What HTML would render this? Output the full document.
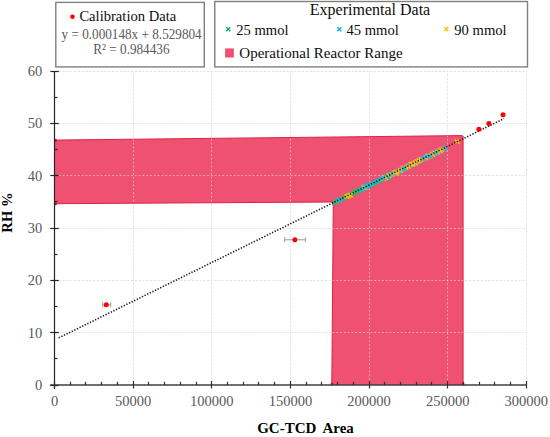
<!DOCTYPE html><html><head><meta charset="utf-8"><style>
html,body{margin:0;padding:0;background:#fff;width:550px;height:437px;overflow:hidden}
svg{display:block}
text{font-family:"Liberation Serif",serif}
</style></head><body>
<svg width="550" height="437" viewBox="0 0 550 437">
<g stroke="#e4e4e4" stroke-width="1" stroke-dasharray="2.3,1.5"><line x1="55.0" y1="332.5" x2="527.0" y2="332.5"/><line x1="55.0" y1="280.5" x2="527.0" y2="280.5"/><line x1="55.0" y1="228.5" x2="527.0" y2="228.5"/><line x1="55.0" y1="175.5" x2="527.0" y2="175.5"/><line x1="55.0" y1="123.5" x2="527.0" y2="123.5"/><line x1="55.0" y1="71.5" x2="527.0" y2="71.5"/><line x1="133.5" y1="384.0" x2="133.5" y2="71.0"/><line x1="211.5" y1="384.0" x2="211.5" y2="71.0"/><line x1="290.5" y1="384.0" x2="290.5" y2="71.0"/><line x1="369.5" y1="384.0" x2="369.5" y2="71.0"/><line x1="447.5" y1="384.0" x2="447.5" y2="71.0"/><line x1="526.5" y1="384.0" x2="526.5" y2="71.0"/></g>
<polygon points="55.0,140.1 462.4,135.6 463.3,136.2 463.3,385 331.8,385 333.3,202.0 55.0,203.7" fill="#ef5173"/>
<polyline points="55,140.1 462.4,135.6 463.0,136.3 463.0,385" fill="none" stroke="#dc2442" stroke-width="1"/>
<polyline points="55,203.7 333.3,202.0 331.8,385" fill="none" stroke="#dc2442" stroke-width="1"/>
<clipPath id="cp"><polygon points="55.0,140.1 462.4,135.6 463.3,136.2 463.3,385 331.8,385 333.3,202.0 55.0,203.7"/></clipPath><g clip-path="url(#cp)"><g stroke="#ffffff" stroke-opacity="0.45" stroke-width="1" stroke-dasharray="2,1.8"><line x1="55.0" y1="332.5" x2="527.0" y2="332.5"/><line x1="55.0" y1="280.5" x2="527.0" y2="280.5"/><line x1="55.0" y1="228.5" x2="527.0" y2="228.5"/><line x1="55.0" y1="175.5" x2="527.0" y2="175.5"/><line x1="55.0" y1="123.5" x2="527.0" y2="123.5"/><line x1="55.0" y1="71.5" x2="527.0" y2="71.5"/><line x1="133.5" y1="384.0" x2="133.5" y2="71.0"/><line x1="211.5" y1="384.0" x2="211.5" y2="71.0"/><line x1="290.5" y1="384.0" x2="290.5" y2="71.0"/><line x1="369.5" y1="384.0" x2="369.5" y2="71.0"/><line x1="447.5" y1="384.0" x2="447.5" y2="71.0"/><line x1="526.5" y1="384.0" x2="526.5" y2="71.0"/></g></g>
<circle cx="55.5" cy="140.2" r="1.5" fill="#e00010"/>
<circle cx="55.5" cy="203.8" r="1.5" fill="#e00010"/>
<circle cx="332" cy="384" r="1.5" fill="#e00010"/>
<circle cx="463" cy="384" r="1.5" fill="#e00010"/>
<circle cx="333.3" cy="202.2" r="1.5" fill="#e00010"/>
<g><path d="M332.27 200.38L336.87 204.98M332.27 204.98L336.87 200.38" stroke="#1ec068" stroke-width="1.45"/><path d="M335.22 198.93L339.82 203.53M335.22 203.53L339.82 198.93" stroke="#1ec068" stroke-width="1.45"/><path d="M337.58 197.49L342.18 202.09M337.58 202.09L342.18 197.49" stroke="#1ec068" stroke-width="1.45"/><path d="M340.88 196.30L345.48 200.90M340.88 200.90L345.48 196.30" stroke="#1ec068" stroke-width="1.45"/><path d="M342.71 194.74L347.31 199.34M342.71 199.34L347.31 194.74" stroke="#1ec068" stroke-width="1.45"/><path d="M345.23 193.27L349.83 197.87M345.23 197.87L349.83 193.27" stroke="#1ec068" stroke-width="1.45"/><path d="M347.11 193.25L351.71 197.85M347.11 197.85L351.71 193.25" stroke="#1ec068" stroke-width="1.45"/><path d="M349.76 191.82L354.36 196.42M349.76 196.42L354.36 191.82" stroke="#1ec068" stroke-width="1.45"/><path d="M352.00 190.05L356.60 194.65M352.00 194.65L356.60 190.05" stroke="#1ec068" stroke-width="1.45"/><path d="M353.95 189.17L358.55 193.77M353.95 193.77L358.55 189.17" stroke="#1ec068" stroke-width="1.45"/><path d="M356.08 188.79L360.68 193.39M356.08 193.39L360.68 188.79" stroke="#1ec068" stroke-width="1.45"/><path d="M358.21 187.40L362.81 192.00M358.21 192.00L362.81 187.40" stroke="#1ec068" stroke-width="1.45"/><path d="M360.37 186.74L364.97 191.34M360.37 191.34L364.97 186.74" stroke="#1ec068" stroke-width="1.45"/><path d="M363.46 185.17L368.06 189.77M363.46 189.77L368.06 185.17" stroke="#1ec068" stroke-width="1.45"/><path d="M365.25 183.56L369.85 188.16M365.25 188.16L369.85 183.56" stroke="#1ec068" stroke-width="1.45"/><path d="M367.05 182.81L371.65 187.41M367.05 187.41L371.65 182.81" stroke="#1ec068" stroke-width="1.45"/><path d="M369.54 181.96L374.14 186.56M369.54 186.56L374.14 181.96" stroke="#1ec068" stroke-width="1.45"/><path d="M371.93 180.93L376.53 185.53M371.93 185.53L376.53 180.93" stroke="#1ec068" stroke-width="1.45"/><path d="M374.31 179.42L378.91 184.02M374.31 184.02L378.91 179.42" stroke="#1ec068" stroke-width="1.45"/><path d="M376.80 178.69L381.40 183.29M376.80 183.29L381.40 178.69" stroke="#1ec068" stroke-width="1.45"/><path d="M379.04 177.45L383.64 182.05M379.04 182.05L383.64 177.45" stroke="#1ec068" stroke-width="1.45"/><path d="M380.87 176.07L385.47 180.67M380.87 180.67L385.47 176.07" stroke="#1ec068" stroke-width="1.45"/><path d="M384.04 174.19L388.64 178.79M384.04 178.79L388.64 174.19" stroke="#1ec068" stroke-width="1.45"/><path d="M387.55 172.61L392.15 177.21M387.55 177.21L392.15 172.61" stroke="#1ec068" stroke-width="1.45"/><path d="M427.96 153.46L432.56 158.06M427.96 158.06L432.56 153.46" stroke="#1ec068" stroke-width="1.45"/><path d="M346.29 193.50L350.89 198.10M346.29 198.10L350.89 193.50" stroke="#ffc20a" stroke-width="1.45"/><path d="M361.75 185.13L366.35 189.73M361.75 189.73L366.35 185.13" stroke="#ffc20a" stroke-width="1.45"/><path d="M375.79 178.37L380.39 182.97M375.79 182.97L380.39 178.37" stroke="#1cb8f2" stroke-width="1.45"/><path d="M400.89 165.95L405.49 170.55M400.89 170.55L405.49 165.95" stroke="#ffc20a" stroke-width="1.45"/><path d="M396.66 169.26L401.26 173.86M396.66 173.86L401.26 169.26" stroke="#1cb8f2" stroke-width="1.45"/><path d="M403.65 165.19L408.25 169.79M403.65 169.79L408.25 165.19" stroke="#ffc20a" stroke-width="1.45"/><path d="M431.41 150.99L436.01 155.59M431.41 155.59L436.01 150.99" stroke="#1cb8f2" stroke-width="1.45"/><path d="M454.90 139.20L459.50 143.80M454.90 143.80L459.50 139.20" stroke="#ffc20a" stroke-width="1.45"/><path d="M386.57 173.22L391.17 177.82M386.57 177.82L391.17 173.22" stroke="#ffc20a" stroke-width="1.45"/><path d="M363.60 184.88L368.20 189.48M363.60 189.48L368.20 184.88" stroke="#ffc20a" stroke-width="1.45"/><path d="M417.69 157.98L422.29 162.58M417.69 162.58L422.29 157.98" stroke="#1cb8f2" stroke-width="1.45"/><path d="M418.69 157.02L423.29 161.62M418.69 161.62L423.29 157.02" stroke="#ffc20a" stroke-width="1.45"/><path d="M432.57 150.55L437.17 155.15M432.57 155.15L437.17 150.55" stroke="#ffc20a" stroke-width="1.45"/><path d="M362.79 184.37L367.39 188.97M362.79 188.97L367.39 184.37" stroke="#1cb8f2" stroke-width="1.45"/><path d="M399.68 167.62L404.28 172.22M399.68 172.22L404.28 167.62" stroke="#1cb8f2" stroke-width="1.45"/><path d="M359.46 187.14L364.06 191.74M359.46 191.74L364.06 187.14" stroke="#1cb8f2" stroke-width="1.45"/><path d="M438.45 148.42L443.05 153.02M438.45 153.02L443.05 148.42" stroke="#1cb8f2" stroke-width="1.45"/><path d="M383.62 175.75L388.22 180.35M383.62 180.35L388.22 175.75" stroke="#1cb8f2" stroke-width="1.45"/><path d="M425.76 153.83L430.36 158.43M425.76 158.43L430.36 153.83" stroke="#ffc20a" stroke-width="1.45"/><path d="M365.38 183.58L369.98 188.18M365.38 188.18L369.98 183.58" stroke="#1cb8f2" stroke-width="1.45"/><path d="M416.55 158.42L421.15 163.02M416.55 163.02L421.15 158.42" stroke="#ffc20a" stroke-width="1.45"/><path d="M423.78 155.56L428.38 160.16M423.78 160.16L428.38 155.56" stroke="#ffc20a" stroke-width="1.45"/><path d="M369.95 181.29L374.55 185.89M369.95 185.89L374.55 181.29" stroke="#1cb8f2" stroke-width="1.45"/><path d="M344.62 194.26L349.22 198.86M344.62 198.86L349.22 194.26" stroke="#ffc20a" stroke-width="1.45"/><path d="M414.81 159.16L419.41 163.76M414.81 163.76L419.41 159.16" stroke="#ffc20a" stroke-width="1.45"/><path d="M421.25 156.45L425.85 161.05M421.25 161.05L425.85 156.45" stroke="#ffc20a" stroke-width="1.45"/><path d="M389.52 172.17L394.12 176.77M389.52 176.77L394.12 172.17" stroke="#ffc20a" stroke-width="1.45"/><path d="M437.73 148.38L442.33 152.98M437.73 152.98L442.33 148.38" stroke="#ffc20a" stroke-width="1.45"/><path d="M402.76 166.32L407.36 170.92M402.76 170.92L407.36 166.32" stroke="#1cb8f2" stroke-width="1.45"/><path d="M386.06 174.53L390.66 179.13M386.06 179.13L390.66 174.53" stroke="#1cb8f2" stroke-width="1.45"/><path d="M409.73 162.68L414.33 167.28M409.73 167.28L414.33 162.68" stroke="#1cb8f2" stroke-width="1.45"/><path d="M424.15 154.18L428.75 158.78M424.15 158.78L428.75 154.18" stroke="#1cb8f2" stroke-width="1.45"/><path d="M413.14 161.31L417.74 165.91M413.14 165.91L417.74 161.31" stroke="#1cb8f2" stroke-width="1.45"/><path d="M393.66 169.82L398.26 174.42M393.66 174.42L398.26 169.82" stroke="#1cb8f2" stroke-width="1.45"/><path d="M394.73 169.78L399.33 174.38M394.73 174.38L399.33 169.78" stroke="#ffc20a" stroke-width="1.45"/><path d="M439.66 147.37L444.26 151.97M439.66 151.97L444.26 147.37" stroke="#ffc20a" stroke-width="1.45"/><path d="M380.89 176.37L385.49 180.97M380.89 180.97L385.49 176.37" stroke="#ffc20a" stroke-width="1.45"/><path d="M421.12 156.34L425.72 160.94M421.12 160.94L425.72 156.34" stroke="#1cb8f2" stroke-width="1.45"/><path d="M383.48 175.09L388.08 179.69M383.48 179.69L388.08 175.09" stroke="#ffc20a" stroke-width="1.45"/><path d="M406.63 162.73L411.23 167.33M406.63 167.33L411.23 162.73" stroke="#1cb8f2" stroke-width="1.45"/><path d="M410.71 161.69L415.31 166.29M410.71 166.29L415.31 161.69" stroke="#ffc20a" stroke-width="1.45"/><path d="M348.15 192.76L352.75 197.36M348.15 197.36L352.75 192.76" stroke="#ffc20a" stroke-width="1.45"/><path d="M442.73 146.30L447.33 150.90M442.73 150.90L447.33 146.30" stroke="#ffc20a" stroke-width="1.45"/><path d="M427.97 153.41L432.57 158.01M427.97 158.01L432.57 153.41" stroke="#ffc20a" stroke-width="1.45"/><path d="M408.81 161.88L413.41 166.48M408.81 166.48L413.41 161.88" stroke="#ffc20a" stroke-width="1.45"/><path d="M430.27 152.02L434.87 156.62M430.27 156.62L434.87 152.02" stroke="#ffc20a" stroke-width="1.45"/><path d="M389.64 171.36L394.24 175.96M389.64 175.96L394.24 171.36" stroke="#1cb8f2" stroke-width="1.45"/><path d="M392.67 170.42L397.27 175.02M392.67 175.02L397.27 170.42" stroke="#ffc20a" stroke-width="1.45"/><path d="M406.08 164.12L410.68 168.72M406.08 168.72L410.68 164.12" stroke="#ffc20a" stroke-width="1.45"/><path d="M397.96 168.02L402.56 172.62M397.96 172.62L402.56 168.02" stroke="#ffc20a" stroke-width="1.45"/><path d="M427.88 153.97L432.48 158.57M427.88 158.57L432.48 153.97" stroke="#1cb8f2" stroke-width="1.45"/><path d="M380.51 175.62L385.11 180.22M380.51 180.22L385.11 175.62" stroke="#1cb8f2" stroke-width="1.45"/><path d="M442.75 146.06L447.35 150.66M442.75 150.66L447.35 146.06" stroke="#1cb8f2" stroke-width="1.45"/><path d="M336.61 198.02L341.21 202.62M336.61 202.62L341.21 198.02" stroke="#1cb8f2" stroke-width="1.45"/><path d="M413.01 160.53L417.61 165.13M413.01 165.13L417.61 160.53" stroke="#ffc20a" stroke-width="1.45"/><path d="M435.41 149.73L440.01 154.33M435.41 154.33L440.01 149.73" stroke="#ffc20a" stroke-width="1.45"/><path d="M434.14 150.54L438.74 155.14M434.14 155.14L438.74 150.54" stroke="#1cb8f2" stroke-width="1.45"/></g>
<g stroke="#b0b0b0" stroke-width="1.3"><line x1="102.6" y1="304.8" x2="110.6" y2="304.8"/><line x1="102.6" y1="302.2" x2="102.6" y2="307.40000000000003"/><line x1="110.6" y1="302.2" x2="110.6" y2="307.40000000000003"/></g>
<g stroke="#b0b0b0" stroke-width="1.3"><line x1="284.7" y1="239.7" x2="305.5" y2="239.7"/><line x1="284.7" y1="237.1" x2="284.7" y2="242.29999999999998"/><line x1="305.5" y1="237.1" x2="305.5" y2="242.29999999999998"/></g>
<line x1="58.7" y1="337.90" x2="504.0" y2="118.60" stroke="#1a1a1a" stroke-width="1.6" stroke-dasharray="1.3,1.6"/>
<circle cx="106.3" cy="304.8" r="2.5" fill="#ff0000"/>
<circle cx="294.9" cy="239.7" r="2.5" fill="#ff0000"/>
<circle cx="478.9" cy="129.2" r="2.5" fill="#ff0000"/>
<circle cx="488.9" cy="123.5" r="2.5" fill="#ff0000"/>
<circle cx="503" cy="114.7" r="2.5" fill="#ff0000"/>
<line x1="54.5" y1="71.0" x2="54.5" y2="389" stroke="#262626" stroke-width="1.2"/>
<line x1="50.2" y1="385.0" x2="526.30" y2="385.0" stroke="#404040" stroke-width="1.5"/>
<g stroke="#262626" stroke-width="1.2"><line x1="50.3" y1="385.5" x2="58.8" y2="385.5"/><line x1="50.3" y1="332.5" x2="58.8" y2="332.5"/><line x1="50.3" y1="280.5" x2="58.8" y2="280.5"/><line x1="50.3" y1="228.5" x2="58.8" y2="228.5"/><line x1="50.3" y1="175.5" x2="58.8" y2="175.5"/><line x1="50.3" y1="123.5" x2="58.8" y2="123.5"/><line x1="50.3" y1="71.5" x2="58.8" y2="71.5"/><line x1="54.5" y1="358.5" x2="57.5" y2="358.5"/><line x1="54.5" y1="306.5" x2="57.5" y2="306.5"/><line x1="54.5" y1="254.5" x2="57.5" y2="254.5"/><line x1="54.5" y1="201.5" x2="57.5" y2="201.5"/><line x1="54.5" y1="149.5" x2="57.5" y2="149.5"/><line x1="54.5" y1="97.5" x2="57.5" y2="97.5"/></g>
<g stroke="#303030" stroke-width="1.2"><line x1="54.5" y1="381" x2="54.5" y2="388.5"/><line x1="133.5" y1="381" x2="133.5" y2="388.5"/><line x1="211.5" y1="381" x2="211.5" y2="388.5"/><line x1="290.5" y1="381" x2="290.5" y2="388.5"/><line x1="369.5" y1="381" x2="369.5" y2="388.5"/><line x1="447.5" y1="381" x2="447.5" y2="388.5"/><line x1="526.5" y1="381" x2="526.5" y2="388.5"/><line x1="70.5" y1="381.8" x2="70.5" y2="385.0"/><line x1="85.5" y1="381.8" x2="85.5" y2="385.0"/><line x1="101.5" y1="381.8" x2="101.5" y2="385.0"/><line x1="117.5" y1="381.8" x2="117.5" y2="385.0"/><line x1="148.5" y1="381.8" x2="148.5" y2="385.0"/><line x1="164.5" y1="381.8" x2="164.5" y2="385.0"/><line x1="180.5" y1="381.8" x2="180.5" y2="385.0"/><line x1="196.5" y1="381.8" x2="196.5" y2="385.0"/><line x1="227.5" y1="381.8" x2="227.5" y2="385.0"/><line x1="243.5" y1="381.8" x2="243.5" y2="385.0"/><line x1="258.5" y1="381.8" x2="258.5" y2="385.0"/><line x1="274.5" y1="381.8" x2="274.5" y2="385.0"/><line x1="306.5" y1="381.8" x2="306.5" y2="385.0"/><line x1="321.5" y1="381.8" x2="321.5" y2="385.0"/><line x1="337.5" y1="381.8" x2="337.5" y2="385.0"/><line x1="353.5" y1="381.8" x2="353.5" y2="385.0"/><line x1="384.5" y1="381.8" x2="384.5" y2="385.0"/><line x1="400.5" y1="381.8" x2="400.5" y2="385.0"/><line x1="416.5" y1="381.8" x2="416.5" y2="385.0"/><line x1="431.5" y1="381.8" x2="431.5" y2="385.0"/><line x1="463.5" y1="381.8" x2="463.5" y2="385.0"/><line x1="479.5" y1="381.8" x2="479.5" y2="385.0"/><line x1="494.5" y1="381.8" x2="494.5" y2="385.0"/><line x1="510.5" y1="381.8" x2="510.5" y2="385.0"/></g>
<g font-size="14.5" fill="#595959"><text x="42.2" y="389.90" text-anchor="end">0</text><text x="42.2" y="337.57" text-anchor="end">10</text><text x="42.2" y="285.24" text-anchor="end">20</text><text x="42.2" y="232.91" text-anchor="end">30</text><text x="42.2" y="180.58" text-anchor="end">40</text><text x="42.2" y="128.25" text-anchor="end">50</text><text x="42.2" y="75.92" text-anchor="end">60</text><text x="54.50" y="406.4" text-anchor="middle">0</text><text x="133.13" y="406.4" text-anchor="middle">50000</text><text x="211.77" y="406.4" text-anchor="middle">100000</text><text x="290.40" y="406.4" text-anchor="middle">150000</text><text x="369.03" y="406.4" text-anchor="middle">200000</text><text x="447.67" y="406.4" text-anchor="middle">250000</text><text x="526.30" y="406.4" text-anchor="middle">300000</text></g>
<text x="257.2" y="433.4" font-size="15" font-weight="bold" fill="#000">GC-TCD</text><text x="322.6" y="433.4" font-size="14.9" font-weight="bold" fill="#000">Area</text>
<text transform="translate(12.1,212.6) rotate(-90)" text-anchor="middle" font-size="14.6" font-weight="bold" fill="#000">RH %</text>
<rect x="55.8" y="2.4" width="148.5" height="64.5" fill="#fff" stroke="#7f7f7f" stroke-width="1.4"/>
<circle cx="72.5" cy="16.7" r="2.3" fill="#ff0000"/>
<text x="79.4" y="21.0" font-size="14.6" fill="#0d0d0d">Calibration Data</text>
<text transform="translate(201.7,38.5) scale(1,1.12)" text-anchor="end" font-size="13.2" fill="#595959">y = 0.000148x + 8.529804</text>
<text transform="translate(169.5,53.9) scale(1,1.12)" text-anchor="end" font-size="13.2" fill="#595959">R² = 0.984436</text>
<rect x="214.75" y="1.5" width="312.75" height="65.4" fill="#fff" stroke="#7f7f7f" stroke-width="1.4"/>
<text x="370" y="14.6" text-anchor="middle" font-size="16" fill="#0d0d0d">Experimental Data</text>
<path d="M226.30 27.30L230.30 31.30M226.30 31.30L230.30 27.30" stroke="#00b050" stroke-width="1.3"/>
<text x="236.2" y="34.5" font-size="14.6" fill="#0d0d0d">25 mmol</text>
<path d="M337.30 27.30L341.30 31.30M337.30 31.30L341.30 27.30" stroke="#00b0f0" stroke-width="1.3"/>
<text x="346.5" y="34.5" font-size="14.6" fill="#0d0d0d">45 mmol</text>
<path d="M444.30 27.30L448.30 31.30M444.30 31.30L448.30 27.30" stroke="#ffc000" stroke-width="1.3"/>
<text x="454.3" y="34.5" font-size="14.6" fill="#0d0d0d">90 mmol</text>
<rect x="225.1" y="48.4" width="8.8" height="9.1" fill="#ef5173"/>
<text x="239.3" y="58.2" font-size="15" fill="#0d0d0d">Operational Reactor Range</text>
</svg></body></html>
